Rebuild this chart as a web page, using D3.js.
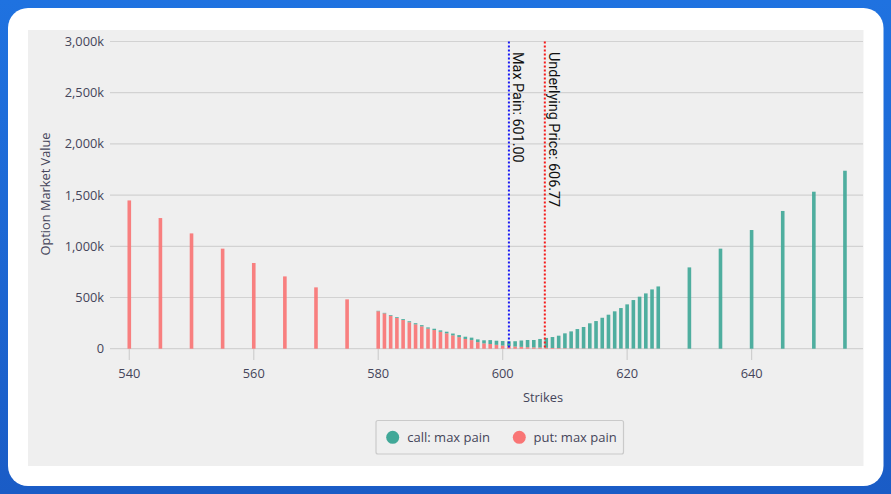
<!DOCTYPE html>
<html>
<head>
<meta charset="utf-8">
<script src="https://cdn.jsdelivr.net/npm/d3@7"></script>
<style>
  html, body { margin: 0; padding: 0; }
  body { width: 891px; height: 494px; background: linear-gradient(180deg, #1f72e0 0%, #1a5cc6 100%); overflow: hidden; }
  svg { display: block; }
</style>
</head>
<body>
<svg id="chart" width="891" height="494"></svg>
<script>
// ---- data (values in thousands) ----
const strikes = [540,545,550,555,560,565,570,575,
  580,581,582,583,584,585,586,587,588,589,
  590,591,592,593,594,595,596,597,598,599,
  600,601,602,603,604,605,606,607,608,609,
  610,611,612,613,614,615,616,617,618,619,
  620,621,622,623,624,625,
  630,635,640,645,650,655];
const putValues = [1448,1276,1126,977,837,706,599,482,
  366,345,322,300,280,258,238,218,196,182,
  165,150,130,113,95,84,64,52,46,38,
  31,25,21,18,15,13,11,9,7,6,
  5,4,3,3,2,2,2,1,1,1,
  1,1,1,1,1,1,
  0,0,0,0,0,0];
const callValues = [0,0,0,0,0,0,0,0,
  4,5,7,8,9,10,11,12,12,13,
  14,16,18,20,22,24,27,30,38,40,
  44,47,52,62,70,72,84,96,107,121,
  145,165,189,209,246,268,300,331,364,396,
  432,474,507,539,578,607,
  794,977,1159,1345,1533,1738];
const yTicks = [0,500,1000,1500,2000,2500,3000];
const xTicks = [540,560,580,600,620,640];
const maxPain = 601.00;
const underlyingPrice = 606.77;
const seriesNames = ["call: max pain", "put: max pain"];
const colors = { call: "#41a898", put: "#f97575" };

const svg = d3.select("#chart");
const axisFont = "'Open Sans', 'Noto Sans', sans-serif";
const textColor = "#45455a";

// card + panel
svg.append("rect").attr("x", 8).attr("y", 8).attr("width", 875.5).attr("height", 478)
  .attr("rx", 20).attr("fill", "#ffffff");
svg.append("rect").attr("x", 28).attr("y", 30).attr("width", 835.5).attr("height", 436)
  .attr("fill", "#efefef");

const x = d3.scaleLinear().domain([536.9, 657.9]).range([110, 863]);
const y = d3.scaleLinear().domain([0, 3000]).range([348.7, 41.5]);

// gridlines
svg.append("g").selectAll("line").data(yTicks).join("line")
  .attr("x1", 110).attr("x2", 863)
  .attr("y1", d => y(d)).attr("y2", d => y(d))
  .attr("stroke", "#d2d2d2").attr("stroke-width", 1.2);

// y axis labels
svg.append("g").selectAll("text").data(yTicks).join("text")
  .attr("x", 104).attr("y", d => y(d)).attr("dy", "0.35em")
  .attr("text-anchor", "end").attr("font-family", axisFont).attr("font-size", 12.8)
  .attr("fill", textColor).text(d => d === 0 ? "0" : d3.format(",")(d) + "k");

// x axis ticks
const xg = svg.append("g");
xg.selectAll("line").data(xTicks).join("line")
  .attr("x1", d => x(d)).attr("x2", d => x(d)).attr("y1", 349).attr("y2", 360)
  .attr("stroke", "#cfcfcf").attr("stroke-width", 1.2);
xg.selectAll("text").data(xTicks).join("text")
  .attr("x", d => x(d)).attr("y", 374).attr("dy", "0.35em")
  .attr("text-anchor", "middle").attr("font-family", axisFont).attr("font-size", 12.8)
  .attr("fill", textColor).text(d => d);

// axis titles
svg.append("text").attr("x", 543).attr("y", 397.5).attr("dy", "0.35em")
  .attr("text-anchor", "middle").attr("font-family", axisFont).attr("font-size", 12.8)
  .attr("fill", textColor).text("Strikes");
svg.append("text").attr("transform", "translate(46,194) rotate(-90)").attr("dy", "0.35em")
  .attr("text-anchor", "middle").attr("font-family", axisFont).attr("font-size", 12.8)
  .attr("fill", textColor).text("Option Market Value");

// stacked bars
const rows = strikes.map((s, i) => ({ strike: s, put: putValues[i], call: callValues[i] }));
const stack = d3.stack().keys(["put", "call"])(rows);
const bw = 3.6;
svg.append("g").selectAll("g").data(stack).join("g")
  .attr("fill", d => colors[d.key]).attr("fill-opacity", 0.92)
  .selectAll("rect").data(d => d).join("rect")
  .attr("x", d => x(d.data.strike) - bw / 2)
  .attr("width", bw)
  .attr("y", d => y(d[1]))
  .attr("height", d => Math.max(0, y(d[0]) - y(d[1])));

// reference lines
const refs = [
  { v: maxPain, color: "#1a1af5", label: "Max Pain: " + maxPain.toFixed(2) },
  { v: underlyingPrice, color: "#f51a1a", label: "Underlying Price: " + underlyingPrice.toFixed(2) }
];
svg.append("g").selectAll("line").data(refs).join("line")
  .attr("x1", d => x(d.v)).attr("x2", d => x(d.v))
  .attr("y1", 41.5).attr("y2", 348.7)
  .attr("stroke", d => d.color).attr("stroke-width", 2)
  .attr("stroke-dasharray", "2,2");
svg.append("g").selectAll("text").data(refs).join("text")
  .attr("transform", d => `translate(${x(d.v) + 4.5},52) rotate(90)`)
  .attr("font-family", "Roboto, 'Liberation Sans', Arial, sans-serif").attr("font-size", 14.4)
  .attr("fill", "#111").text(d => d.label);

// legend
const lg = svg.append("g");
lg.append("rect").attr("x", 376).attr("y", 420.5).attr("width", 247.5).attr("height", 33.5)
  .attr("rx", 2).attr("fill", "#efefef").attr("stroke", "#cacaca").attr("stroke-width", 1.2);
const legendItems = [
  { name: seriesNames[0], color: colors.call, cx: 392.7, tx: 407.3 },
  { name: seriesNames[1], color: colors.put, cx: 519.3, tx: 533.5 }
];
lg.selectAll("circle").data(legendItems).join("circle")
  .attr("cx", d => d.cx).attr("cy", 437.3).attr("r", 6.5).attr("fill", d => d.color);
lg.selectAll("text").data(legendItems).join("text")
  .attr("x", d => d.tx).attr("y", 437.3).attr("dy", "0.35em")
  .attr("font-family", axisFont).attr("font-size", 13)
  .attr("fill", textColor).text(d => d.name);
</script>
</body>
</html>
